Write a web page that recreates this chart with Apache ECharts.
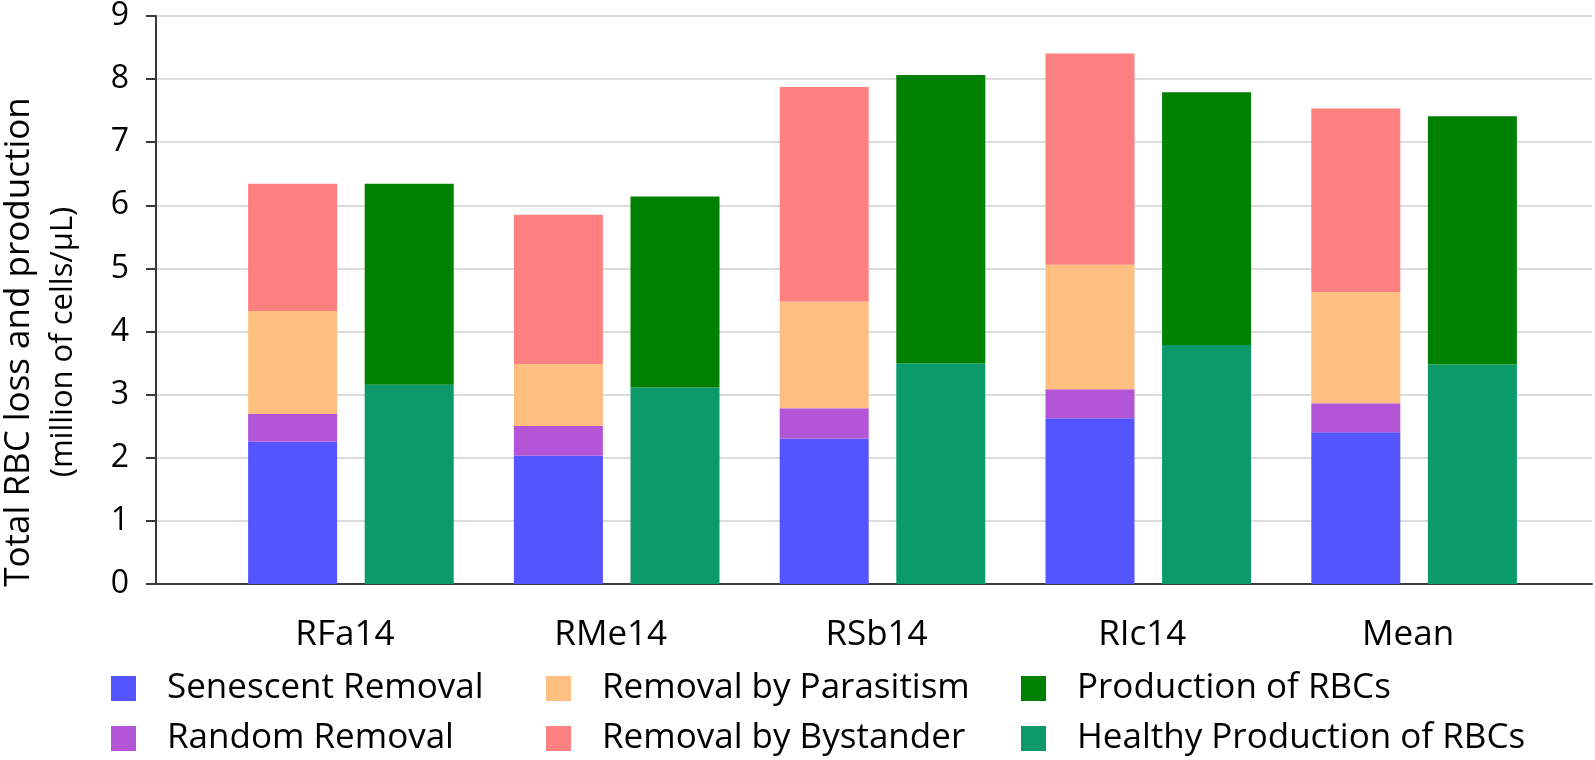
<!DOCTYPE html>
<html>
<head>
<meta charset="utf-8">
<script src="https://cdn.jsdelivr.net/npm/echarts@6/dist/echarts.min.js"></script>
<style>
html,body{margin:0;padding:0;background:#fff;}
#chart{width:1595px;height:760px;}
</style>
</head>
<body>
<div id="chart"></div>
<script>
const categories = ['RFa14', 'RMe14', 'RSb14', 'RIc14', 'Mean'];
const senescentRemoval = [2.25, 2.03, 2.30, 2.62, 2.40];
const randomRemoval = [0.44, 0.47, 0.48, 0.46, 0.46];
const parasitismRemoval = [1.63, 0.98, 1.69, 1.97, 1.76];
const bystanderRemoval = [2.01, 2.36, 3.39, 3.34, 2.90];
const healthyProduction = [3.15, 3.11, 3.49, 3.78, 3.47];
const productionRBC = [3.18, 3.02, 4.56, 4.00, 3.93];
const yMin = 0, yMax = 9, yStep = 1;
const yTitleLine1 = 'Total RBC loss and production';
const yTitleLine2 = '(million of cells/µL)';

const FONT = 'Open Sans';
const chart = echarts.init(document.getElementById('chart'), null, {renderer: 'canvas'});

function barSeries(name, data, stack, color) {
  return {
    name: name, type: 'bar', stack: stack, data: data,
    xAxisIndex: 1, yAxisIndex: 1,
    barWidth: 89, barGap: '31%',
    itemStyle: {color: color},
    emphasis: {disabled: true}
  };
}
const legendCommon = {
  orient: 'vertical', icon: 'rect', itemWidth: 25, itemHeight: 25,
  itemGap: 15, top: 671, padding: 0,
  textStyle: {fontFamily: FONT, fontSize: 35, color: '#000', lineHeight: 34, padding: [0, 0, 0, 26]},
  selectedMode: false
};

chart.setOption({
  animation: false,
  backgroundColor: '#fff',
  grid: [
    {left: 156, right: 3, top: 15, bottom: 176},
    {left: 218, right: 48, top: 15, bottom: 176}
  ],
  xAxis: [
    {type: 'category', gridIndex: 0, data: [''],
     axisLine: {show: true, lineStyle: {color: '#3a3a3a', width: 2}},
     axisTick: {show: false}, axisLabel: {show: false}, splitLine: {show: false}},
    {type: 'category', gridIndex: 1, data: categories,
     axisLine: {show: false}, axisTick: {show: false},
     axisLabel: {fontFamily: FONT, fontSize: 35, color: '#000', margin: 34, padding: [0, 12, 0, 0]}}
  ],
  yAxis: [
    {type: 'value', gridIndex: 0, min: yMin, max: yMax, interval: yStep,
     axisLine: {show: true, lineStyle: {color: '#3a3a3a', width: 2}},
     axisTick: {show: true, length: 10, lineStyle: {color: '#3a3a3a', width: 2}},
     axisLabel: {fontFamily: FONT, fontSize: 32, color: '#000', margin: 27},
     splitLine: {show: true, lineStyle: {color: '#dcdcdc', width: 2}}},
    {type: 'value', gridIndex: 1, min: yMin, max: yMax, interval: yStep, show: false,
     splitLine: {show: false}}
  ],
  legend: [
    Object.assign({}, legendCommon, {left: 111, data: ['Senescent Removal', 'Random Removal']}),
    Object.assign({}, legendCommon, {left: 546, data: ['Removal by Parasitism', 'Removal by Bystander']}),
    Object.assign({}, legendCommon, {left: 1021, data: ['Production of RBCs', 'Healthy Production of RBCs']})
  ],
  graphic: [{
    type: 'text', x: 41, y: 342, rotation: Math.PI / 2,
    style: {
      text: '{a|' + yTitleLine1 + '}\n{b|' + yTitleLine2 + '}',
      x: 0, y: 0, align: 'center', verticalAlign: 'middle',
      fontFamily: FONT, fill: '#000',
      rich: {
        a: {fontFamily: FONT, fontSize: 35, lineHeight: 44, fill: '#000', align: 'center'},
        b: {fontFamily: FONT, fontSize: 31, lineHeight: 44, fill: '#000', align: 'center'}
      }
    }
  }],
  series: [
    barSeries('Senescent Removal', senescentRemoval, 'loss', '#5555FF'),
    barSeries('Random Removal', randomRemoval, 'loss', '#B455D8'),
    barSeries('Removal by Parasitism', parasitismRemoval, 'loss', '#FFBF80'),
    barSeries('Removal by Bystander', bystanderRemoval, 'loss', '#FF8080'),
    barSeries('Healthy Production of RBCs', healthyProduction, 'prod', '#0C9A6A'),
    barSeries('Production of RBCs', productionRBC, 'prod', '#008000')
  ]
});
</script>
</body>
</html>
